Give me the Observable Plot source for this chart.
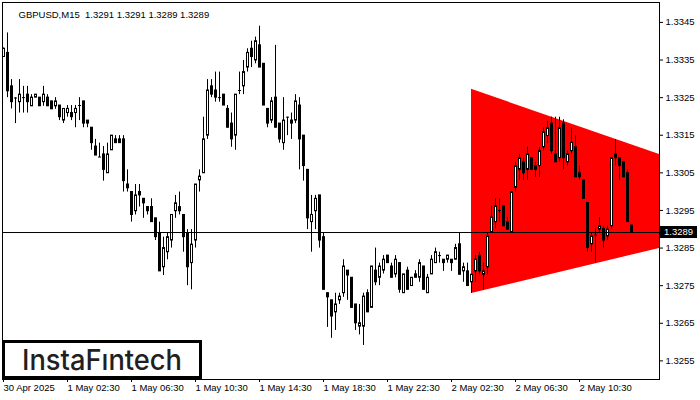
<!DOCTYPE html>
<html>
<head>
<meta charset="utf-8">
<script src="https://cdn.jsdelivr.net/npm/d3@7"></script>
<script src="https://cdn.jsdelivr.net/npm/@observablehq/plot@0.6"></script>
<style>
  html, body { margin: 0; padding: 0; background: white; }
  #chart { position: relative; width: 700px; height: 400px; }
</style>
</head>
<body>
<div id="chart"></div>
<script>
const title = "GBPUSD,M15  1.3291 1.3291 1.3289 1.3289";
const lastPrice = 1.3289;

const open = [1.33358,1.33369,1.33280,1.33249,1.33238,1.33250,1.33258,1.33227,1.33250,1.33250,
1.33238,1.33250,1.33240,1.33227,1.33229,1.33189,1.33209,1.33209,1.33209,1.33229,
1.33240,1.33189,1.33170,1.33120,1.33092,1.33099,1.33049,1.33110,1.33139,1.33139,
1.33139,1.33019,1.32999,1.32948,1.32999,1.32981,1.32959,1.32959,1.32929,1.32890,
1.32799,1.32839,1.32870,1.32948,1.32959,1.32938,1.32890,1.32810,1.32870,1.33030,
1.33049,1.33149,1.33280,1.33269,1.33250,1.33258,1.33220,1.33181,1.33149,1.33269,
1.33280,1.33330,1.33380,1.33349,1.33389,1.33340,1.33220,1.33189,1.33250,1.33181,
1.33129,1.33198,1.33189,1.33189,1.33229,1.33149,1.33058,1.32919,1.32948,1.32990,
1.32879,1.32730,1.32711,1.32679,1.32711,1.32730,1.32790,1.32771,1.32700,1.32641,
1.32641,1.32730,1.32691,1.32790,1.32771,1.32790,1.32830,1.32801,1.32780,1.32810,
1.32730,1.32790,1.32749,1.32780,1.32771,1.32801,1.32730,1.32780,1.32810,1.32830,
1.32819,1.32819,1.32819,1.32819,1.32860,1.32788,1.32788,1.32759,1.32788,1.32830,
1.32779,1.32799,1.32891,1.32919,1.32950,1.32961,1.32919,1.32891,1.33010,1.33058,
1.33078,1.33058,1.33089,1.33068,1.33068,1.33118,1.33148,1.33181,1.33099,1.33089,
1.33181,1.33078,1.33108,1.33118,1.33049,1.33030,1.32970,1.32860,1.32884,1.32899,
1.32901,1.32881,1.32908,1.33099,1.33089,1.33078,1.33049,1.3291];

const high = [1.33382,1.33422,1.33298,1.33250,1.33298,1.33280,1.33280,1.33258,1.33258,1.33250,
1.33280,1.33258,1.33240,1.33250,1.33229,1.33220,1.33229,1.33229,1.33229,1.33250,
1.33240,1.33189,1.33170,1.33139,1.33129,1.33120,1.33129,1.33149,1.33149,1.33149,
1.33149,1.33058,1.32999,1.33019,1.33019,1.32981,1.32959,1.32981,1.32929,1.32919,
1.32879,1.32890,1.32938,1.32990,1.32999,1.32938,1.32899,1.32899,1.33019,1.33058,
1.33198,1.33298,1.33298,1.33318,1.33318,1.33258,1.33229,1.33209,1.33258,1.33318,
1.33349,1.33380,1.33400,1.33411,1.33440,1.33340,1.33220,1.33250,1.33389,1.33181,
1.33250,1.33198,1.33209,1.33258,1.33250,1.33149,1.33058,1.32990,1.32990,1.32990,
1.32890,1.32730,1.32711,1.32730,1.32730,1.32819,1.32790,1.32771,1.32700,1.32700,
1.32730,1.32739,1.32801,1.32850,1.32810,1.32830,1.32830,1.32810,1.32830,1.32810,
1.32780,1.32799,1.32771,1.32790,1.32819,1.32801,1.32780,1.32830,1.32850,1.32839,
1.32819,1.32830,1.32819,1.32860,1.32891,1.32810,1.32810,1.32779,1.32830,1.32839,
1.32810,1.32891,1.32961,1.32981,1.32981,1.32961,1.32931,1.32999,1.33078,1.33099,
1.33089,1.33118,1.33089,1.33078,1.33118,1.33169,1.33187,1.33198,1.33198,1.33198,
1.33191,1.33108,1.33169,1.33148,1.33068,1.33030,1.32970,1.32891,1.32901,1.32931,
1.32908,1.32908,1.33089,1.33138,1.33089,1.33078,1.33058,1.3291];

const low = [1.33357,1.33250,1.33220,1.33181,1.33209,1.33209,1.33209,1.33227,1.33250,1.33227,
1.33227,1.33227,1.33219,1.33219,1.33189,1.33181,1.33198,1.33189,1.33170,1.33189,
1.33170,1.33170,1.33110,1.33096,1.33091,1.33028,1.33049,1.33110,1.33129,1.33129,
1.32999,1.32999,1.32919,1.32938,1.32959,1.32929,1.32938,1.32919,1.32870,1.32788,
1.32777,1.32819,1.32850,1.32929,1.32938,1.32839,1.32750,1.32739,1.32850,1.32999,
1.33049,1.33139,1.33250,1.33238,1.33238,1.33229,1.33170,1.33118,1.33110,1.33258,
1.33258,1.33318,1.33330,1.33340,1.33330,1.33229,1.33170,1.33181,1.33170,1.33129,
1.33110,1.33149,1.33139,1.33181,1.33058,1.33028,1.32899,1.32839,1.32899,1.32850,
1.32739,1.32639,1.32610,1.32631,1.32700,1.32719,1.32711,1.32691,1.32631,1.32619,
1.32591,1.32679,1.32691,1.32750,1.32750,1.32781,1.32810,1.32771,1.32771,1.32730,
1.32730,1.32739,1.32749,1.32771,1.32759,1.32739,1.32730,1.32780,1.32810,1.32810,
1.32788,1.32810,1.32788,1.32819,1.32779,1.32759,1.32749,1.32730,1.32759,1.32779,
1.32739,1.32779,1.32891,1.32901,1.32919,1.32908,1.32899,1.32891,1.32999,1.33030,
1.33030,1.33030,1.33058,1.33038,1.33038,1.33108,1.33127,1.33099,1.33078,1.33078,
1.33058,1.33068,1.33099,1.33038,1.33030,1.32981,1.32839,1.32839,1.32810,1.32891,
1.32850,1.32870,1.32901,1.33068,1.33030,1.33038,1.32919,1.3289];

const close = [1.33380,1.33267,1.33238,1.33249,1.33258,1.33250,1.33238,1.33250,1.33258,1.33227,
1.33258,1.33227,1.33219,1.33240,1.33198,1.33220,1.33220,1.33198,1.33220,1.33229,
1.33181,1.33181,1.33129,1.33096,1.33092,1.33058,1.33099,1.33149,1.33129,1.33129,
1.33028,1.33009,1.32938,1.32990,1.32990,1.32969,1.32948,1.32919,1.32879,1.32788,
1.32850,1.32879,1.32938,1.32969,1.32948,1.32879,1.32799,1.32859,1.33019,1.33040,
1.33139,1.33269,1.33258,1.33250,1.33250,1.33229,1.33170,1.33139,1.33258,1.33269,
1.33318,1.33369,1.33358,1.33400,1.33330,1.33229,1.33181,1.33240,1.33170,1.33139,
1.33189,1.33198,1.33181,1.33240,1.33139,1.33068,1.32929,1.32938,1.32981,1.32870,
1.32739,1.32719,1.32668,1.32700,1.32721,1.32801,1.32777,1.32691,1.32650,1.32650,
1.32721,1.32679,1.32801,1.32759,1.32801,1.32819,1.32810,1.32771,1.32819,1.32739,
1.32780,1.32739,1.32771,1.32771,1.32810,1.32739,1.32771,1.32819,1.32839,1.32830,
1.32810,1.32830,1.32810,1.32850,1.32779,1.32799,1.32749,1.32779,1.32819,1.32788,
1.32788,1.32881,1.32931,1.32961,1.32950,1.32908,1.32899,1.32999,1.33068,1.33089,
1.33049,1.33099,1.33058,1.33058,1.33108,1.33158,1.33169,1.33108,1.33078,1.33169,
1.33089,1.33099,1.33130,1.33038,1.33038,1.32981,1.32850,1.32881,1.32884,1.32908,
1.32870,1.32899,1.33089,1.33089,1.33068,1.33038,1.32919,1.3289];

const xTickIdx = [0, 16, 32, 48, 64, 80, 96, 112, 128, 144];
const xTickLabels = ["30 Apr 2025","1 May 02:30","1 May 06:30","1 May 10:30","1 May 14:30",
  "1 May 18:30","1 May 22:30","2 May 02:30","2 May 06:30","2 May 10:30"];
const yTicks = [1.3255, 1.3265, 1.3275, 1.3285, 1.3295, 1.3305, 1.3315, 1.3325, 1.3335, 1.3345];

// triangle (symmetrical pattern) edges
const triX = [117, 164];
const triLow = [1.32729, 1.32849];
const triHigh = [1.33272, 1.33099];

const bars = open.map((o, i) => ({i, o, h: high[i], l: low[i], c: close[i]}));
const bodies = bars.filter(d => d.o !== d.c);
const dojis = bars.filter(d => d.o === d.c);
const tri = triX.map((x, k) => ({x, lo: triLow[k], hi: triHigh[k]}));

const plot = Plot.plot({
  width: 700, height: 400,
  marginLeft: 2, marginRight: 41, marginTop: 2, marginBottom: 21,
  x: {type: "linear", domain: [-0.25, 164], axis: null},
  y: {domain: [1.325005, 1.33503], axis: null},
  style: {fontFamily: "'Liberation Sans', Arial, sans-serif", fontSize: "9.5px", background: "white", color: "black"},
  marks: [
    Plot.areaY(tri, {x: "x", y1: "lo", y2: "hi", fill: "#ff0000"}),
    Plot.ruleX(bars, {x: "i", y1: "l", y2: "h", stroke: "black", strokeWidth: 1}),
    Plot.rect(bodies, {x1: d => d.i - 0.125, x2: d => d.i + 0.375, y1: "o", y2: "c",
      fill: d => d.c > d.o ? "white" : "black", stroke: "black", strokeWidth: 1}),
    Plot.ruleY(dojis, {x1: d => d.i - 0.25, x2: d => d.i + 0.5, y: "o", stroke: "black"}),
    Plot.ruleY([lastPrice], {stroke: "black", dy: -0.5}),
    Plot.frame({stroke: "black"}),
    Plot.axisY(yTicks, {anchor: "right", tickSize: 3, tickPadding: 3, tickFormat: d => d.toFixed(4)}),
    Plot.axisX(xTickIdx, {anchor: "bottom", tickSize: 3, tickPadding: 2, textAnchor: "start",
      tickFormat: d => xTickLabels[xTickIdx.indexOf(d)]}),
    Plot.text([title], {frameAnchor: "top-left", dx: 16, dy: 8.5, textAnchor: "start", fill: "black"})
  ]
});

document.getElementById("chart").appendChild(plot);

// current price label box on the right scale
const ys = plot.scale("y");
const py = ys.apply(lastPrice);
const svg = d3.select(plot);
svg.append("rect").attr("x", 660).attr("y", py - 6.5).attr("width", 37).attr("height", 12).attr("fill", "black");
svg.append("text").attr("x", 664).attr("y", py - 0.5).attr("dy", "0.35em").attr("fill", "white")
  .attr("text-anchor", "start").attr("font-size", 9.5).text(lastPrice.toFixed(4));

// logo
const g = svg.append("g");
g.append("rect").attr("x", 3.5).attr("y", 341.5).attr("width", 197).attr("height", 36)
  .attr("fill", "white").attr("stroke", "black").attr("stroke-width", 3);
g.append("text").attr("x", 22).attr("y", 369.5).attr("text-anchor", "start")
  .attr("font-family", "Inter, Lato, sans-serif")
  .attr("font-size", 28).attr("font-weight", 500).attr("fill", "#231f20")
  .attr("textLength", 160).attr("lengthAdjust", "spacingAndGlyphs").text("InstaFıntech");
</script>
</body>
</html>
